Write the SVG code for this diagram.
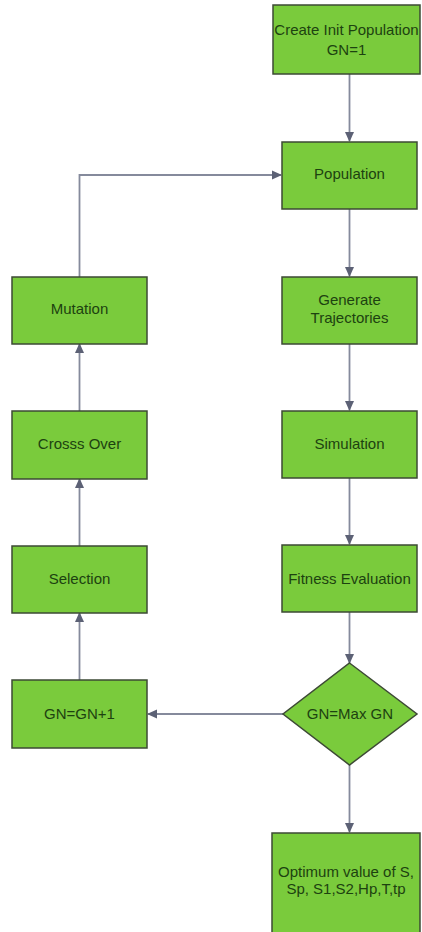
<svg xmlns="http://www.w3.org/2000/svg" width="422" height="932" viewBox="0 0 422 932">
<style>
.box{fill:#7acb3c;stroke:#3d4a35;stroke-width:1.5}
.lbl{font-family:"Liberation Sans",Arial,sans-serif;font-size:15px;fill:#1d4210;text-anchor:middle}
.con{fill:none;stroke:#858a9c;stroke-width:1.8}
</style>
<defs>
<marker id="ah" markerWidth="10" markerHeight="10" refX="9" refY="5" orient="auto" markerUnits="userSpaceOnUse">
<path d="M0,0.5 L10,5 L0,9.5 Z" fill="#5c6175"/>
</marker>
</defs>
<rect width="422" height="932" fill="#ffffff"/>
<g id="connectors">
<line class="con" x1="349.5" y1="74" x2="349.5" y2="141" marker-end="url(#ah)"/>
<line class="con" x1="349.5" y1="209" x2="349.5" y2="276" marker-end="url(#ah)"/>
<line class="con" x1="349.5" y1="344" x2="349.5" y2="410" marker-end="url(#ah)"/>
<line class="con" x1="349.5" y1="478" x2="349.5" y2="544" marker-end="url(#ah)"/>
<line class="con" x1="349.5" y1="612" x2="349.5" y2="663" marker-end="url(#ah)"/>
<line class="con" x1="349.5" y1="765" x2="349.5" y2="832" marker-end="url(#ah)"/>
<line class="con" x1="283" y1="714" x2="148" y2="714" marker-end="url(#ah)"/>
<line class="con" x1="79.5" y1="680" x2="79.5" y2="613" marker-end="url(#ah)"/>
<line class="con" x1="79.5" y1="546" x2="79.5" y2="479" marker-end="url(#ah)"/>
<line class="con" x1="79.5" y1="411" x2="79.5" y2="344" marker-end="url(#ah)"/>
<polyline class="con" points="79.5,277 79.5,175 281,175" marker-end="url(#ah)"/>
</g>
<g id="create-init">
<rect class="box" x="273" y="5" width="147" height="69"/>
<text class="lbl" x="346.5" y="35">Create Init Population</text>
<text class="lbl" x="346.5" y="55">GN=1</text>
</g>
<g id="population">
<rect class="box" x="282" y="142" width="135" height="67"/>
<text class="lbl" x="349.5" y="179">Population</text>
</g>
<g id="generate-trajectories">
<rect class="box" x="282" y="277" width="135" height="67"/>
<text class="lbl" x="349.5" y="305">Generate</text>
<text class="lbl" x="349.5" y="323">Trajectories</text>
</g>
<g id="simulation">
<rect class="box" x="282" y="411" width="135" height="67"/>
<text class="lbl" x="349.5" y="449">Simulation</text>
</g>
<g id="fitness-evaluation">
<rect class="box" x="282" y="545" width="135" height="67"/>
<text class="lbl" x="349.5" y="584">Fitness Evaluation</text>
</g>
<g id="decision">
<polygon class="box" points="349.5,663 417,714 349.5,765 283,714"/>
<text class="lbl" x="350" y="719">GN=Max GN</text>
</g>
<g id="optimum">
<rect class="box" x="272" y="833" width="148" height="105"/>
<text class="lbl" x="346" y="877">Optimum value of S,</text>
<text class="lbl" x="346" y="894">Sp, S1,S2,Hp,T,tp</text>
</g>
<g id="gn-increment">
<rect class="box" x="12" y="680" width="135" height="68"/>
<text class="lbl" x="79.5" y="719">GN=GN+1</text>
</g>
<g id="selection">
<rect class="box" x="12" y="546" width="135" height="67"/>
<text class="lbl" x="79.5" y="584">Selection</text>
</g>
<g id="cross-over">
<rect class="box" x="12" y="411" width="135" height="68"/>
<text class="lbl" x="79.5" y="449">Crosss Over</text>
</g>
<g id="mutation">
<rect class="box" x="12" y="277" width="135" height="67"/>
<text class="lbl" x="79.5" y="314">Mutation</text>
</g>
</svg>
